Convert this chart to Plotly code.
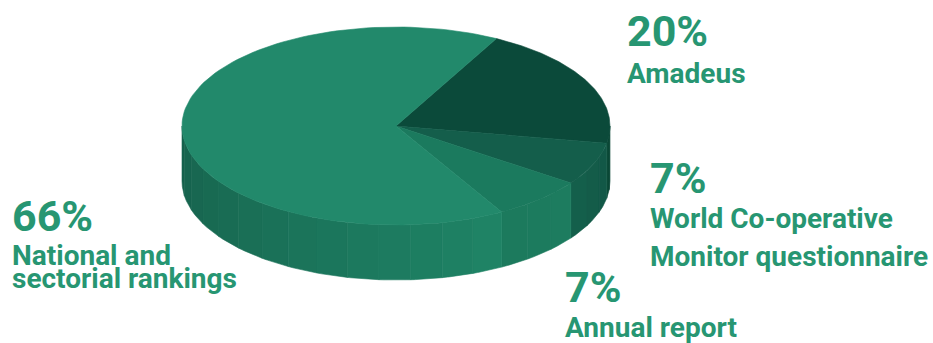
import numpy as np
import plotly.graph_objects as go

# ---- data ----
labels = ["Amadeus", "World Co-operative Monitor questionnaire", "Annual report",
          "National and sectorial rankings"]
values = [20, 7, 7, 66]
pct_text = ["20%", "7%", "7%", "66%"]
label_lines = [["Amadeus"], ["World Co-operative", "Monitor questionnaire"],
               ["Annual report"], ["National and", "sectorial rankings"]]

# ---- style ----
top_colors = ["#0b4a3a", "#145e4b", "#1b7a5e", "#22896b"]
side_from = ["#0c4a39", "#15614c", "#1c7a5d", "#16614c"]
side_to = ["#0b4636", "#125646", "#1d7c5f", "#1f8466"]
text_color = "#279672"
FONT = "Roboto, sans-serif"

W, H = 933, 343
cx, cy, rx, ry, depth = 396, 126, 214, 99, 55
start_deg = 62.0


def hex2rgb(h):
    h = h.lstrip("#")
    return np.array([int(h[i:i + 2], 16) for i in (0, 2, 4)], dtype=float)


def mix(a, b, f):
    c = hex2rgb(a) * (1 - f) + hex2rgb(b) * f
    return "rgb(%d,%d,%d)" % tuple(np.round(c).astype(int))


def pt(t, dy=0.0):
    r = np.radians(t)
    return cx + rx * np.cos(r), cy - ry * np.sin(r) + dy


fig = go.Figure()
total = float(sum(values))
angles = []
cur = start_deg
for v in values:
    nxt = cur - v / total * 360.0
    angles.append((cur, nxt))
    cur = nxt

side_traces = []
top_traces = []
for i, (t0, t1) in enumerate(angles):
    ts = np.linspace(t0, t1, 120)
    xs, ys = pt(ts)
    tx = [cx] + list(xs) + [cx]
    ty = [cy] + list(ys) + [cy]
    top_traces.append(go.Scatter(x=tx, y=ty, mode="lines", fill="toself",
                                 fillcolor=top_colors[i],
                                 line=dict(color=top_colors[i], width=0.6),
                                 hoverinfo="skip", showlegend=False))
    lo, hi = t1, t0
    for shift in (0, -360, 360):
        a = max(lo + shift, -180.0)
        b = min(hi + shift, 0.0)
        if b - a <= 0.01:
            continue
        nb = max(1, int(np.ceil((b - a) / 9.0)))
        edges = np.linspace(a, b, nb + 1)
        for k in range(nb):
            e0, e1 = edges[k], edges[k + 1]
            f = (0.5 * (e0 + e1) - a) / max(b - a, 1e-9)
            col = mix(side_from[i], side_to[i], f)
            ss = np.linspace(e0, e1, 20)
            ux, uy = pt(ss)
            bx, by = pt(ss[::-1], depth)
            side_traces.append(go.Scatter(
                x=list(ux) + list(bx) + [ux[0]], y=list(uy) + list(by) + [uy[0]],
                mode="lines", fill="toself", fillcolor=col,
                line=dict(color=col, width=0.6),
                hoverinfo="skip", showlegend=False))

for tr in side_traces + top_traces:
    fig.add_trace(tr)

# ---- labels ----
label_pos = [(625, 31, [73]), (648, 178, [218, 256]), (563, 287, [327]),
             (10, 216, [255, 278])]
for i, (lx, py, ly) in enumerate(label_pos):
    fig.add_annotation(x=lx, y=py, text="<b>%s</b>" % pct_text[i], showarrow=False,
                       xanchor="left", yanchor="middle", xref="x", yref="y",
                       font=dict(family=FONT, size=43, color=text_color))
    for line, yy in zip(label_lines[i], ly):
        fig.add_annotation(x=lx, y=yy, text="<b>%s</b>" % line, showarrow=False,
                           xanchor="left", yanchor="middle", xref="x", yref="y",
                           font=dict(family=FONT, size=28, color=text_color))

fig.update_layout(
    width=W, height=H, margin=dict(l=0, r=0, t=0, b=0),
    paper_bgcolor="white", plot_bgcolor="white",
    xaxis=dict(range=[0, W], visible=False, fixedrange=True),
    yaxis=dict(range=[H, 0], visible=False, fixedrange=True),
    showlegend=False,
)
fig.write_html("out.html", config={"displayModeBar": False})
